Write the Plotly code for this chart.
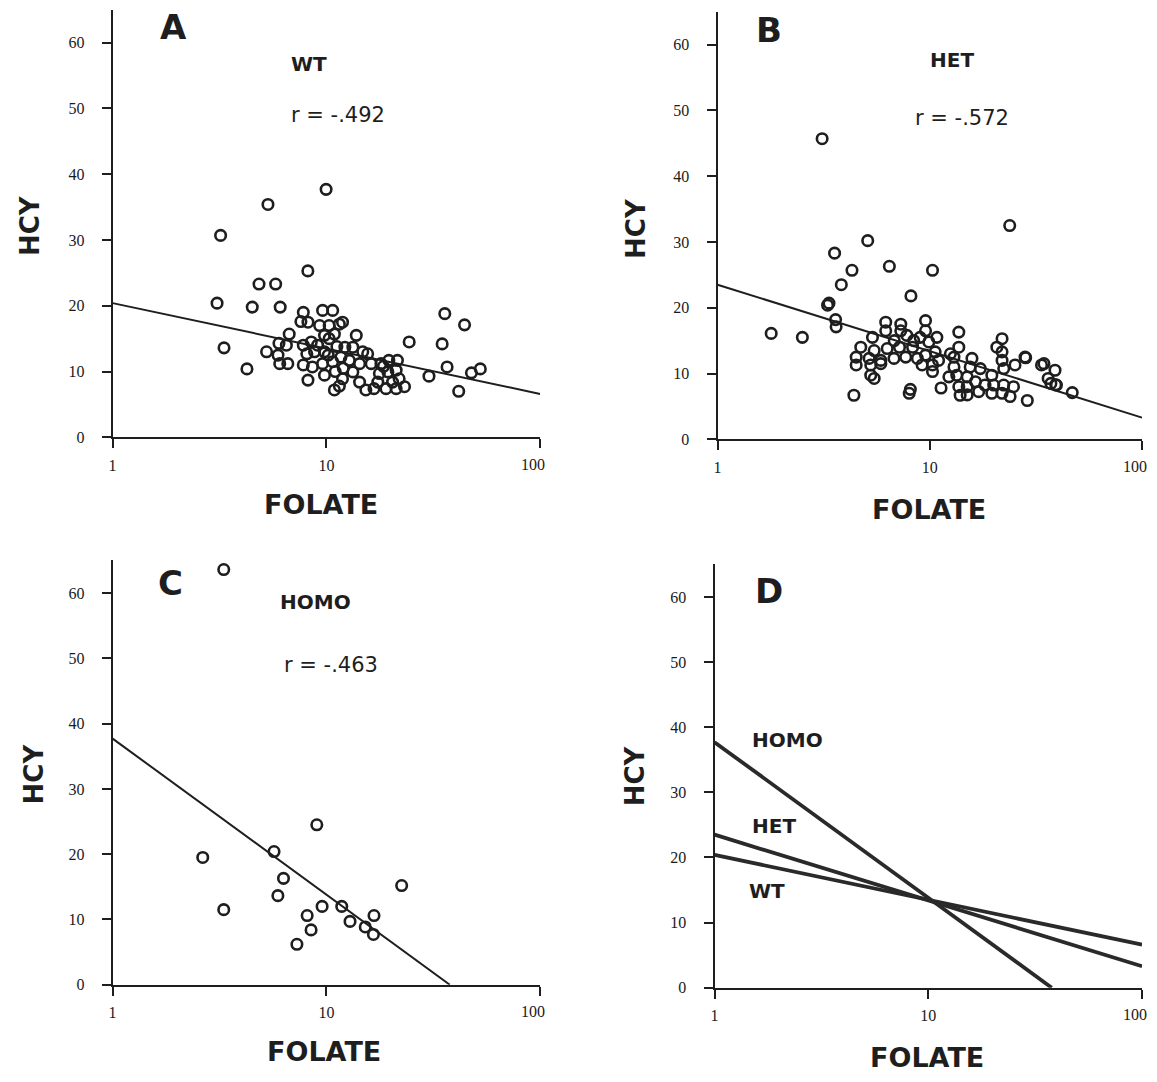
import plotly.graph_objects as go

# ---------------- data ----------------
wt_folate = [9.97, 5.33, 3.2, 8.19, 4.84, 5.79, 3.08, 4.5, 6.08, 3.32, 4.25, 35.8, 44.3, 24.4, 34.8,
             41.6, 30.2, 36.7, 47.7, 52.5,
             7.8, 8.2, 7.6, 9.6, 10.7, 9.3, 10.3, 11.5, 11.9, 9.8, 10.9, 10.3,
             6.7, 6.5, 5.25, 5.94, 6.05, 6.6, 6.0, 7.8, 8.5, 9.1, 8.1, 8.8, 9.8,
             7.8, 8.6, 9.6, 10.7, 8.2, 9.8, 10.9, 11.7, 12.2, 11.9, 13.3, 14.3,
             13.8, 13.3, 14.8, 15.6, 12.8, 14.3, 15.3, 16.7, 16.2, 18.0, 19.6,
             17.7, 19.4, 21.2, 17.4, 19.0, 21.2, 23.2, 21.9, 20.4, 21.5,
             11.0, 12.0, 10.2, 11.2, 11.5, 18.5]
wt_hcy = [37.7, 35.4, 30.7, 25.3, 23.3, 23.3, 20.4, 19.8, 19.8, 13.6, 10.4, 18.8, 17.1, 14.5, 14.2,
          7.0, 9.3, 10.7, 9.8, 10.4,
          19.0, 17.5, 17.6, 19.3, 19.3, 17.0, 17.0, 17.2, 17.5, 15.5, 15.7, 15.0,
          15.7, 14.0, 13.0, 12.5, 11.2, 11.2, 14.3, 14.0, 14.5, 14.0, 12.7, 13.0, 13.0,
          11.0, 10.7, 11.2, 11.5, 8.7, 9.45, 7.2, 12.2, 13.7, 8.9, 9.95, 8.4,
          15.5, 13.7, 13.0, 12.7, 11.7, 11.2, 7.2, 7.4, 11.2, 11.2, 11.7,
          9.7, 9.95, 10.2, 8.4, 7.4, 7.4, 7.7, 8.9, 8.4, 11.7,
          10.0, 10.5, 12.5, 13.8, 7.8, 10.8]

het_folate = [3.11, 23.8, 5.1, 3.56, 6.45, 4.3, 10.3, 3.83, 3.35, 3.3, 8.15, 1.79, 2.51, 3.6, 3.62,
              4.39, 8.1, 8.0, 11.3, 28.8, 46.9, 38.9, 37.2, 39.2, 34.5, 28.3,
              6.2, 7.3, 9.55, 6.2, 7.3, 9.55, 5.37, 8.4, 10.8, 13.7,
              4.73, 5.47, 6.3, 7.2, 8.3, 9.9, 10.6, 12.5, 13.7, 4.5, 4.5,
              5.18, 5.88, 6.78, 7.7, 8.74, 9.55, 5.27, 5.88, 9.2, 10.3, 10.3,
              5.27, 5.47, 13.0, 13.0, 13.4, 13.7, 13.9,
              21.9, 20.7, 21.9, 21.9, 15.8, 15.5, 17.3, 15.0, 16.4, 18.2, 15.0, 15.0,
              17.0, 19.6, 21.9, 23.9, 24.8, 22.3, 20.0, 19.6, 22.3, 25.2, 28.1, 33.6,
              36.1, 39.5, 11.0, 12.3, 7.8, 6.8, 9.0]
het_hcy = [45.7, 32.5, 30.2, 28.3, 26.3, 25.7, 25.7, 23.5, 20.7, 20.4, 21.8, 16.1, 15.5, 18.2, 17.1,
           6.7, 7.6, 7.0, 7.8, 5.9, 7.1, 10.5, 8.5, 8.3, 11.5, 12.4,
           17.8, 17.5, 18.05, 16.5, 16.5, 16.5, 15.5, 15.0, 15.5, 16.3,
           14.0, 13.5, 13.8, 14.0, 14.0, 14.8, 13.3, 13.0, 14.0, 12.5, 11.3,
           12.3, 12.0, 12.3, 12.5, 12.3, 12.8, 11.3, 11.5, 11.3, 11.3, 10.3,
           9.75, 9.25, 12.5, 11.0, 9.75, 8.0, 6.7,
           15.3, 14.0, 13.3, 12.0, 12.3, 11.0, 10.75, 9.5, 8.75, 8.25, 8.0, 6.75,
           7.25, 7.0, 7.0, 6.5, 8.0, 8.25, 8.25, 9.75, 10.75, 11.3, 12.5, 11.3,
           9.25, 8.25, 12.0, 9.5, 15.8, 15.0, 15.5]

homo_folate = [3.31, 2.64, 3.31, 5.69, 6.3, 5.93, 9.02, 9.55, 8.13, 8.48, 7.28, 11.8, 12.9, 15.2,
               16.7, 16.6, 22.5]
homo_hcy = [63.6, 19.5, 11.5, 20.4, 16.3, 13.65, 24.5, 12.0, 10.6, 8.4, 6.2, 12.0, 9.7, 8.85,
            10.6, 7.7, 15.2]

# regression fits: HCY = intercept + slope * log10(FOLATE)
groups = ["WT", "HET", "HOMO"]
fit_intercept = [20.4, 23.5, 37.7]
fit_slope = [-6.9, -10.1, -23.9]
r_labels = ["r = -.492", "r = -.572", "r = -.463"]

x_tick_vals = [1, 10, 100]
x_tick_text = ["1", "10", "100"]
y_tick_vals = [0, 10, 20, 30, 40, 50, 60]
y_tick_text = ["0", "10", "20", "30", "40", "50", "60"]

# ---------------- layout helpers ----------------
W, H = 1157, 1082
INK = "#1e1e1e"


def px(x):
    return x / W


def py(y):
    return 1 - y / H


def fit_line(i):
    a, b = fit_intercept[i], fit_slope[i]
    x_end = 100.0
    y_end = a + b * 2
    if y_end < 0:
        x_end = 10 ** (-a / b)
        y_end = 0.0
    return [1, x_end], [a, y_end]


# panel geometry in picture pixels: (x at 1, x at 100, y at 0, px per hcy unit)
panels = {
    "A": (109, 538, 441, 6.633),
    "B": (716, 1142, 443, 6.633),
    "C": (109, 538, 993, 6.583),
    "D": (713, 1142, 996, 6.567),
}

fig = go.Figure()
layout = dict(width=W, height=H, margin=dict(l=0, r=0, t=0, b=0),
              paper_bgcolor="white", plot_bgcolor="white", showlegend=False)

axis_font = dict(family="Liberation Serif, Times New Roman, serif", size=16, color="#1a1a1a")
ann = []

for k, (name, (xl, xr, yb, s)) in enumerate(panels.items()):
    idx = "" if k == 0 else str(k + 1)
    ytop = yb - 65 * s
    # the last x tick label sits a little left of its tick (as in the original);
    # it is written as an annotation anchored to the axis
    layout["xaxis" + idx] = dict(
        domain=[px(xl), px(xr)], anchor="y" + idx, type="log", range=[0, 2],
        tickvals=x_tick_vals, ticktext=x_tick_text[:-1] + [""], showgrid=False, zeroline=False,
        showline=True, linecolor=INK, linewidth=2, ticks="outside", ticklen=9,
        tickwidth=2, tickcolor=INK, tickfont=axis_font, ticklabelstandoff=3)
    layout["yaxis" + idx] = dict(
        domain=[py(yb), py(ytop)], anchor="x" + idx, range=[0, 65],
        tickvals=y_tick_vals, ticktext=y_tick_text, showgrid=False, zeroline=False,
        showline=True, linecolor=INK, linewidth=2, ticks="outside", ticklen=9,
        tickwidth=2, tickcolor=INK, tickfont=axis_font, ticklabelstandoff=14)
    ann.append(dict(x=2, y=0, xref="x" + idx, yref="y" + idx, text=x_tick_text[-1],
                    showarrow=False, xanchor="center", yanchor="middle",
                    xshift=-7, yshift=-27, font=axis_font))

marker = dict(symbol="circle-open", size=10.5, color=INK, line=dict(width=2.6, color=INK))

scatter_data = [(wt_folate, wt_hcy), (het_folate, het_hcy), (homo_folate, homo_hcy)]
for i in range(3):
    idx = "" if i == 0 else str(i + 1)
    lx, ly = fit_line(i)
    fig.add_trace(go.Scatter(x=lx, y=ly, mode="lines", line=dict(color=INK, width=2),
                             xaxis="x" + idx, yaxis="y" + idx, hoverinfo="skip"))
    fx, fy = scatter_data[i]
    fig.add_trace(go.Scatter(x=fx, y=fy, mode="markers", marker=marker, cliponaxis=False,
                             xaxis="x" + idx, yaxis="y" + idx, name=groups[i]))

# panel D: all three fit lines
for i in range(3):
    lx, ly = fit_line(i)
    fig.add_trace(go.Scatter(x=lx, y=ly, mode="lines", line=dict(color="#2a2a2a", width=3.8),
                             xaxis="x4", yaxis="y4", name=groups[i]))

fig.update_layout(**layout)

sans = "DejaVu Sans, Arial, sans-serif"


def text(x, y, t, size, bold=True, angle=0):
    ann.append(dict(x=px(x), y=py(y), xref="paper", yref="paper", text=("<b>%s</b>" % t) if bold else t,
                    showarrow=False, textangle=angle, xanchor="center", yanchor="middle",
                    font=dict(family=sans, size=size, color=INK)))


# panel letters
text(170, 27, "A", 34)
text(768, 30, "B", 34)
text(167, 588, "C", 34)
text(768, 596, "D", 34)

# group labels and r values
text(306, 65, "WT", 20)
text(335, 116, r_labels[0], 21, bold=False)
text(951, 60, "HET", 20)
text(961, 119, r_labels[1], 21, bold=False)
text(313, 607, "HOMO", 20)
text(328, 671, r_labels[2], 21, bold=False)
text(786, 746, "HOMO", 20)
text(773, 833, "HET", 20)
text(766, 898, "WT", 20)

# axis titles
for (hx, hy) in [(26, 227), (634, 230), (30, 780), (634, 782)]:
    text(hx, hy, "HCY", 26, angle=-90)
for (fx_, fy_) in [(318, 509), (928, 514), (321, 1060), (926, 1066)]:
    text(fx_, fy_, "FOLATE", 27)

fig.update_layout(annotations=ann)
# let the figure fill the page exactly (no default body margin), no mode bar
fig.write_html("out.html",
               config={"displayModeBar": False},
               post_script="document.body.style.margin='0';document.body.style.overflow='hidden';")
